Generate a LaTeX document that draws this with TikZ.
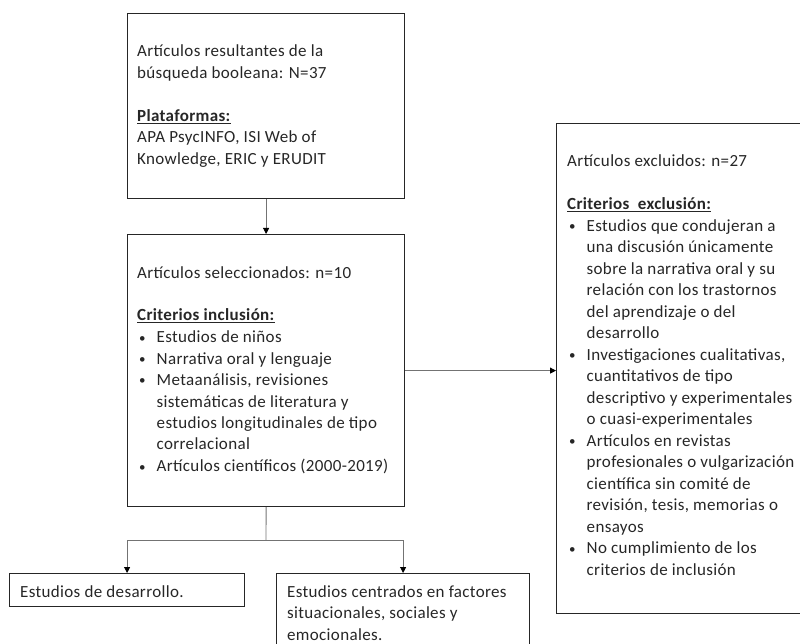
\documentclass[tikz,border=0pt]{standalone}
\usepackage{fontspec}
\setmainfont{Carlito}[LetterSpace=2]
\usetikzlibrary{arrows.meta}
\newcommand\bitem[1]{\makebox[19.5pt][l]{\hspace*{2pt}\raisebox{0.5pt}{\fontsize{13}{13}\selectfont\textbullet}}#1}
\newcommand\bcont[1]{\hspace*{19.5pt}#1}
\tikzset{
  box/.style={draw=black!85, line width=1.2pt, inner sep=0pt, anchor=north west},
  conn/.style={draw=black!55, line width=0.9pt},
  arr/.style={conn, -{Triangle[length=6pt,width=6pt,color=black]}},
  txt/.style={anchor=base west, inner sep=0pt, text=black!85,
    font=\fontsize{17}{21.5}\selectfont},
}
\begin{document}
\begin{tikzpicture}[x=1pt,y=-1pt]
\useasboundingbox (0,0) rectangle (800,644);
% boxes
\node[box, minimum width=277pt, minimum height=185pt] (b1) at (127,13) {};
\node[box, minimum width=277pt, minimum height=272pt] (b2) at (127,234) {};
\node[box, minimum width=252pt, minimum height=490pt] (rb) at (556,123) {};
\node[box, minimum width=235pt, minimum height=33pt] (d1) at (9,573) {};
\node[box, minimum width=253pt, minimum height=80pt] (d2) at (276,573) {};
% texts
\node[txt] (t1) at (137,57) {\parbox[t]{265pt}{%
Artículos resultantes de la\\
búsqueda booleana: N=37\\[21.5pt]
\underline{\textbf{Plataformas:}}\\
APA PsycINFO, ISI Web of\\
Knowledge, ERIC y ERUDIT}};
\node[txt] (t2) at (137,278) {\parbox[t]{265pt}{%
Artículos seleccionados: n=10\\[21.5pt]
\underline{\textbf{Criterios inclusión:}}\\
\bitem{Estudios de niños}\\
\bitem{Narrativa oral y lenguaje}\\
\bitem{Metaanálisis, revisiones}\\
\bcont{sistemáticas de literatura y}\\
\bcont{estudios longitudinales de tipo}\\
\bcont{correlacional}\\
\bitem{Artículos científicos (2000-2019)}}};
\node[txt] (t3) at (567,167) {\parbox[t]{240pt}{%
Artículos excluidos: n=27\\[21.5pt]
\underline{\textbf{Criterios\ \ exclusión:}}\\
\bitem{Estudios que condujeran a}\\
\bcont{una discusión únicamente}\\
\bcont{sobre la narrativa oral y su}\\
\bcont{relación con los trastornos}\\
\bcont{del aprendizaje o del}\\
\bcont{desarrollo}\\
\bitem{Investigaciones cualitativas,}\\
\bcont{cuantitativos de tipo}\\
\bcont{descriptivo y experimentales}\\
\bcont{o cuasi-experimentales}\\
\bitem{Artículos en revistas}\\
\bcont{profesionales o vulgarización}\\
\bcont{científica sin comité de}\\
\bcont{revisión, tesis, memorias o}\\
\bcont{ensayos}\\
\bitem{No cumplimiento de los}\\
\bcont{criterios de inclusión}}};
\node[txt] (t4) at (20,597) {Estudios de desarrollo.};
\node[txt] (t5) at (287,597) {\parbox[t]{240pt}{%
Estudios centrados en factores\\
situacionales, sociales y\\
emocionales.}};
% connectors
\coordinate (split) at (266,540);
\draw[arr] (b1.south) -- (b2.north);
\draw[arr] (b2.east) -- (b2.east -| rb.west);
\draw[conn] (b2.south) -- (split);
\draw[arr] (split) -| (d1.north);
\draw[arr] (split) -| (d2.north);
\end{tikzpicture}
\end{document}
